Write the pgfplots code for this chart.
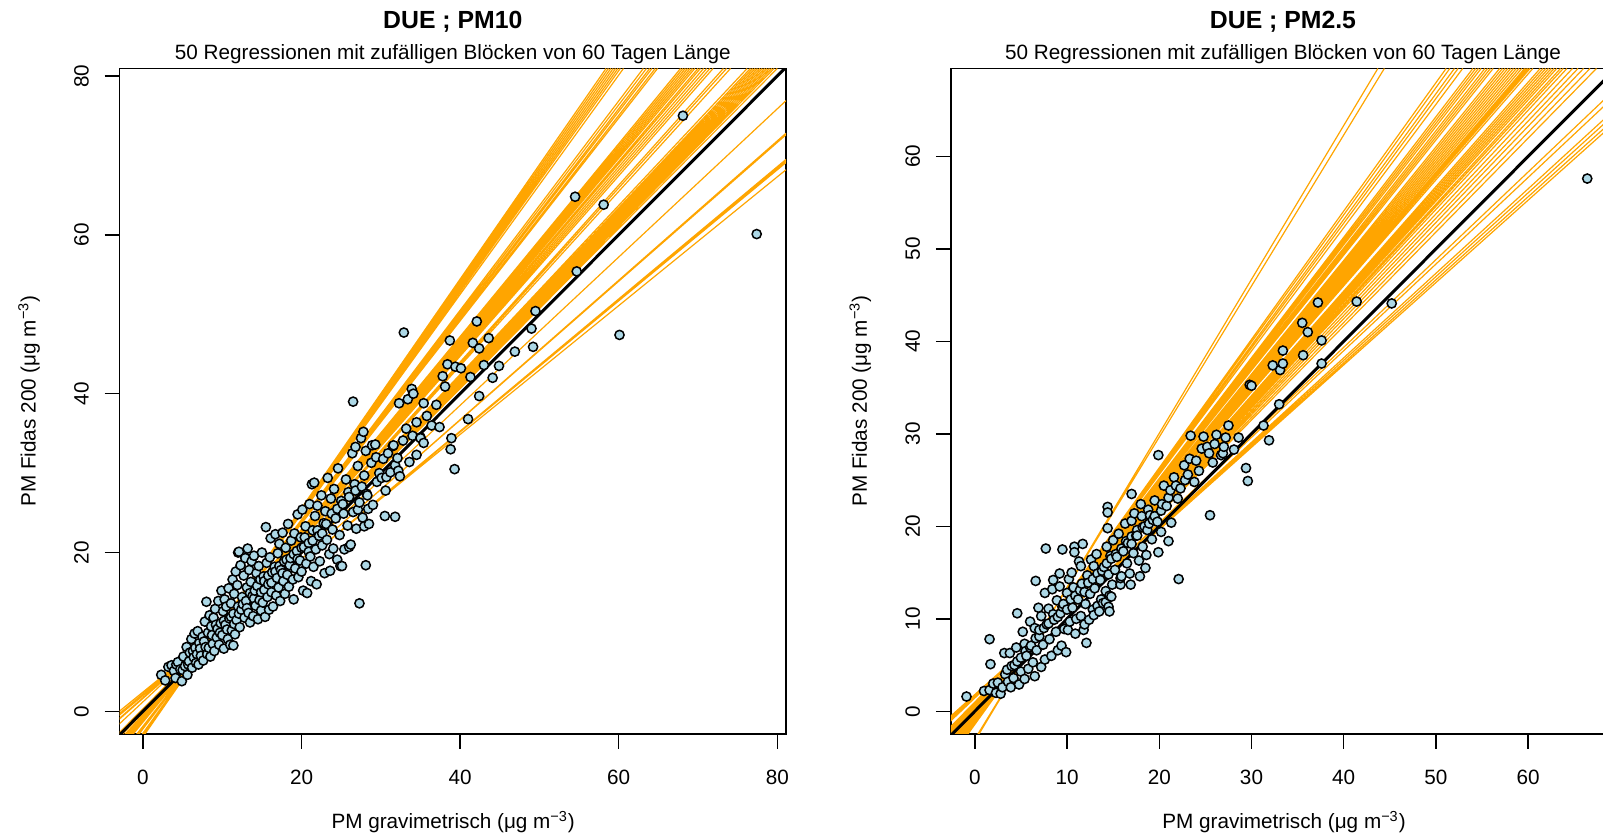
\documentclass[border=0pt]{standalone}
\usepackage{fontspec}
\setmainfont{Liberation Sans}
\usepackage{pgfplots}
\pgfplotsset{compat=1.18}
\usepackage{pgfplotstable}

\definecolor{ptfill}{RGB}{173,216,230}
\definecolor{rorange}{RGB}{255,165,0}
\newcommand{\basefont}{\fontsize{10.35}{12.4}\selectfont}
\newcommand{\titlefont}{\fontsize{12.4}{14.9}\selectfont\bfseries}

% ---------- PM10: daily pairs (gravimetric, Fidas) ----------
\pgfplotstableread{
x y
2.3 4.6
2.8 3.9
3.2 5.6
3.6 5.8
3.9 5.1
4.1 4.2
4.2 5.9
4.4 6.2
4.7 5.3
4.9 3.8
5.0 5.2
5.1 6.9
5.3 5.7
5.5 8.1
5.6 4.6
5.7 5.9
5.8 6.3
5.9 7.4
6.1 9.1
6.2 5.5
6.3 7.6
6.4 6.8
6.5 9.8
6.6 8.0
6.7 6.1
6.8 7.2
6.9 10.1
7.0 5.9
7.1 8.6
7.2 7.9
7.3 7.0
7.5 9.4
7.6 6.4
7.7 8.8
7.8 11.3
7.9 8.1
8.0 13.8
8.1 7.2
8.2 9.9
8.3 8.0
8.4 12.1
8.5 6.9
8.6 10.7
8.7 9.6
8.8 8.5
8.9 11.8
9.0 7.6
9.1 12.9
9.2 10.9
9.3 9.3
9.4 10.4
9.5 13.9
9.6 8.4
9.7 9.9
9.8 11.1
9.9 15.2
10.0 9.6
10.1 12.6
10.2 7.9
10.2 11.4
10.3 14.1
10.4 10.9
10.5 13.2
10.6 10.3
10.7 9.1
10.8 15.5
10.9 11.7
11.0 8.4
11.1 13.6
11.1 11.9
11.2 10.2
11.3 16.6
11.4 8.3
11.4 12.3
11.5 14.8
11.5 11.0
11.6 9.7
11.7 17.6
11.8 11.5
11.9 15.9
12.0 13.2
12.0 20.0
12.1 20.1
12.1 12.3
12.2 10.6
12.3 18.4
12.4 12.8
12.5 14.4
12.6 13.5
12.7 17.1
12.8 11.8
12.9 19.3
13.0 13.9
13.1 15.6
13.1 13.0
13.2 20.5
13.3 12.4
13.4 17.8
13.5 11.2
13.5 14.9
13.6 16.3
13.7 18.9
13.8 14.5
13.9 12.0
14.0 19.6
14.0 14.2
14.1 15.2
14.2 13.3
14.3 17.4
14.4 15.8
14.5 11.6
14.6 18.3
14.7 14.0
14.8 16.6
14.9 12.7
14.9 15.0
15.0 20.0
15.1 13.7
15.2 17.0
15.3 15.3
15.3 16.4
15.4 11.9
15.5 23.2
15.6 18.7
15.7 14.4
15.8 16.0
15.8 17.1
15.9 12.8
16.0 19.4
16.1 21.8
16.2 15.0
16.2 16.2
16.3 17.5
16.4 13.2
16.6 18.2
16.7 22.3
16.7 17.6
16.8 14.6
16.9 16.8
17.0 19.9
17.1 15.6
17.2 21.1
17.2 18.3
17.3 13.9
17.4 17.8
17.6 22.5
17.6 17.4
17.7 16.4
17.8 18.9
17.9 14.8
18.0 20.6
18.1 19.1
18.2 17.2
18.3 23.6
18.4 15.7
18.5 18.4
18.6 19.3
18.7 21.5
18.9 16.6
19.0 14.1
19.0 19.8
19.1 22.4
19.2 18.0
19.4 20.2
19.5 24.8
19.5 19.2
19.6 16.9
19.8 19.0
19.9 21.9
20.0 17.6
20.0 20.6
20.1 25.4
20.2 15.2
20.3 20.7
20.4 21.9
20.5 23.3
20.6 18.6
20.7 14.9
20.9 21.2
20.9 20.1
21.0 26.1
21.1 19.5
21.2 16.4
21.3 28.6
21.4 22.8
21.4 21.5
21.5 18.2
21.6 28.8
21.7 24.6
21.8 20.4
21.9 16.0
22.0 25.9
22.0 22.8
22.2 22.1
22.3 18.9
22.5 27.2
22.6 20.9
22.6 22.4
22.8 23.7
22.9 17.4
23.0 25.2
23.1 23.6
23.2 21.6
23.3 29.4
23.5 19.8
23.6 17.7
23.7 26.8
23.8 24.9
23.9 22.9
24.0 20.5
24.1 28.0
24.3 24.3
24.5 19.1
24.5 25.5
24.6 30.6
24.8 22.2
24.9 18.3
25.0 26.5
25.1 18.3
25.2 26.1
25.3 24.9
25.4 20.4
25.6 29.2
25.8 23.4
25.9 27.6
26.0 20.7
26.0 27.0
26.2 21.0
26.4 32.5
26.5 25.1
26.5 39.0
26.7 28.6
26.8 33.3
26.8 27.8
26.9 23.0
27.1 25.4
27.1 30.9
27.3 13.6
27.3 26.3
27.5 34.4
27.6 28.3
27.7 24.4
27.8 35.2
27.9 23.3
27.9 29.7
28.1 18.4
28.1 32.8
28.2 27.4
28.3 27.2
28.4 25.5
28.5 23.6
28.8 31.3
28.9 33.5
29.0 26.0
29.3 33.6
29.4 32.0
29.5 28.9
29.8 30.0
30.1 29.4
30.3 31.8
30.5 24.6
30.6 27.8
30.7 29.5
30.9 32.5
31.2 30.1
31.5 33.4
31.6 33.5
31.8 24.5
31.8 31.0
32.1 31.9
32.2 30.3
32.3 38.8
32.4 29.6
32.8 34.1
32.9 47.7
33.2 35.6
33.4 39.3
33.6 31.4
33.9 40.6
34.0 34.7
34.1 40.0
34.5 32.3
34.5 36.4
35.0 34.5
35.0 34.4
35.4 38.8
35.4 33.8
35.8 37.2
36.4 36.0
37.0 38.6
37.4 35.8
37.8 42.2
38.1 40.9
38.4 43.7
38.7 46.7
38.8 33.0
38.9 34.4
39.3 30.5
39.4 43.4
40.1 43.2
41.0 36.8
41.3 42.1
41.6 46.4
42.1 49.1
42.4 45.7
42.4 39.7
43.0 43.6
43.6 47.0
44.1 42.0
44.9 43.5
46.9 45.3
49.0 48.2
49.2 45.9
49.5 50.4
54.5 64.8
54.7 55.4
58.1 63.8
60.1 47.4
68.1 75.0
77.4 60.1
}\pmtenpts

% 50 regressions on random 60-day blocks (lower end, exit point)
\pgfplotstableread{
x y
-3 -7.54
58.4 80.95
nan nan
-3 -7.45
58.7 80.95
nan nan
-3 -7.35
59.0 80.95
nan nan
-3 -7.26
59.3 80.95
nan nan
-3 -7.17
59.6 80.95
nan nan
-3 -7.07
59.9 80.95
nan nan
-3 -6.98
60.2 80.95
nan nan
-3 -6.87
60.6 80.95
nan nan
-3 -6.16
63.1 80.95
nan nan
-3 -6.05
63.5 80.95
nan nan
-3 -5.95
63.9 80.95
nan nan
-3 -5.87
64.2 80.95
nan nan
-3 -5.77
64.6 80.95
nan nan
-3 -5.69
64.9 80.95
nan nan
-3 -5.00
67.8 80.95
nan nan
-3 -4.93
68.1 80.95
nan nan
-3 -4.86
68.4 80.95
nan nan
-3 -4.80
68.7 80.95
nan nan
-3 -4.73
69.0 80.95
nan nan
-3 -4.66
69.3 80.95
nan nan
-3 -4.59
69.6 80.95
nan nan
-3 -4.52
70.0 80.95
nan nan
-3 -4.45
70.3 80.95
nan nan
-3 -4.37
70.7 80.95
nan nan
-3 -4.28
71.1 80.95
nan nan
-3 -4.20
71.5 80.95
nan nan
-3 -4.12
71.9 80.95
nan nan
-3 -3.87
73.2 80.95
nan nan
-3 -3.79
73.6 80.95
nan nan
-3 -3.70
74.1 80.95
nan nan
-3 -3.32
76.2 80.95
nan nan
-3 -3.25
76.6 80.95
nan nan
-3 -3.19
76.9 80.95
nan nan
-3 -3.15
77.2 80.95
nan nan
-3 -3.09
77.5 80.95
nan nan
-3 -3.05
77.8 80.95
nan nan
-3 -2.99
78.1 80.95
nan nan
-3 -2.95
78.4 80.95
nan nan
-3 -2.89
78.7 80.95
nan nan
-3 -2.85
79.0 80.95
nan nan
-3 -2.80
79.3 80.95
nan nan
-3 -2.75
79.6 80.95
nan nan
-3 -2.69
80.0 80.95
nan nan
-3 -1.60
81.1 76.9
nan nan
-3 -1.00
81.1 72.8
nan nan
-3 -0.90
81.1 72.6
nan nan
-3 -0.50
81.1 69.5
nan nan
-3 -0.40
81.1 69.3
nan nan
-3 -0.30
81.1 69.1
nan nan
-3 0.00
81.1 68.2
}\pmtenlines

% ---------- PM2.5: daily pairs (gravimetric, Fidas) ----------
\pgfplotstableread{
x y
-0.9 1.6
1.0 2.2
1.6 2.3
1.6 7.8
1.7 5.1
2.0 3.0
2.3 2.0
2.5 3.1
2.8 1.9
3.0 2.6
3.2 6.3
3.3 4.0
3.5 4.5
3.6 3.2
3.8 6.3
3.9 2.6
4.0 4.9
4.2 3.6
4.3 5.0
4.5 6.9
4.6 5.4
4.6 10.6
4.8 2.9
5.0 4.3
5.0 5.8
5.2 8.6
5.4 3.5
5.4 7.3
5.5 6.5
5.6 6.0
5.8 4.6
6.0 9.7
6.0 6.9
6.1 7.1
6.3 5.3
6.5 9.0
6.5 3.8
6.6 14.1
6.6 7.9
6.7 6.6
6.9 11.2
7.0 8.1
7.0 8.8
7.2 10.3
7.2 4.8
7.4 7.2
7.5 9.0
7.6 12.8
7.6 5.6
7.7 17.6
7.8 9.4
8.0 11.1
8.0 9.5
8.1 7.8
8.3 6.0
8.4 13.2
8.5 14.2
8.5 10.5
8.6 9.9
8.8 8.6
8.9 12.0
9.0 6.6
9.0 10.2
9.2 14.9
9.2 13.5
9.3 10.6
9.4 7.1
9.5 17.5
9.5 11.3
9.6 11.6
9.7 8.9
9.9 6.4
10.0 12.8
10.0 11.0
10.1 8.8
10.2 14.3
10.3 9.7
10.4 12.1
10.5 15.0
10.6 11.2
10.7 13.4
10.8 17.8
10.8 17.2
10.9 8.4
10.9 12.5
11.0 10.0
11.2 12.1
11.3 16.2
11.4 13.1
11.5 15.7
11.5 10.3
11.6 13.8
11.7 18.1
11.8 8.8
11.9 9.4
11.9 12.9
12.0 11.6
12.1 7.4
12.2 14.7
12.3 13.9
12.4 9.9
12.5 12.7
12.6 16.4
12.8 11.0
12.8 14.3
12.9 10.4
12.9 15.7
13.0 13.3
13.2 17.0
13.3 11.4
13.3 14.9
13.5 10.8
13.6 14.2
13.7 12.1
13.8 15.2
13.9 11.7
14.0 15.6
14.2 11.8
14.2 13.0
14.3 17.8
14.3 16.0
14.4 22.1
14.4 21.5
14.4 19.8
14.5 11.3
14.5 14.8
14.6 10.8
14.6 12.5
14.7 16.8
14.8 12.4
14.8 16.5
14.9 13.7
15.0 18.5
15.2 15.3
15.3 17.0
15.4 16.7
15.6 19.2
15.8 13.7
15.8 14.4
15.9 14.6
15.9 17.6
16.1 17.3
16.3 20.3
16.4 18.4
16.5 16.0
16.6 18.2
16.8 14.9
16.9 13.7
17.0 18.9
17.0 18.1
17.0 20.6
17.0 23.5
17.2 17.1
17.3 21.4
17.5 19.0
17.6 19.6
17.6 19.0
17.8 16.3
17.9 14.6
18.0 22.4
18.1 21.1
18.2 17.8
18.2 19.9
18.4 20.0
18.5 15.5
18.6 16.9
18.7 19.6
18.8 21.8
18.9 20.3
19.0 21.2
19.2 18.6
19.3 20.7
19.5 22.8
19.5 21.1
19.8 20.5
19.9 17.2
19.9 27.7
20.2 19.4
20.2 21.7
20.3 22.4
20.5 24.4
20.8 22.2
21.0 18.4
21.0 23.1
21.2 23.9
21.3 20.4
21.6 25.3
21.8 24.4
22.0 23.0
22.1 14.3
22.3 24.1
22.7 26.6
22.8 25.0
23.1 25.6
23.3 27.3
23.4 29.8
23.8 24.8
24.0 27.1
24.3 26.0
24.6 28.4
24.8 29.7
25.2 28.6
25.4 27.9
25.5 21.2
25.8 26.9
26.0 28.9
26.2 29.9
26.7 27.7
26.9 27.9
27.0 28.6
27.2 29.6
27.5 30.9
28.1 28.3
28.6 29.6
29.4 26.3
29.6 24.9
29.8 35.3
30.0 35.2
31.3 30.9
31.9 29.3
32.3 37.4
33.0 33.2
33.1 36.9
33.4 37.6
33.4 39.0
35.5 42.0
35.6 38.5
36.1 41.0
37.2 44.2
37.6 40.1
37.6 37.6
41.4 44.3
45.2 44.1
66.4 57.6
}\pmtwofivepts

% 50 regressions on random 60-day blocks (lower end, exit point)
\pgfplotstableread{
x y
-3 -8.21
43.7 69.5
nan nan
-3 -7.91
44.4 69.5
nan nan
-3 -5.59
51.1 69.5
nan nan
-3 -5.47
51.5 69.5
nan nan
-3 -5.32
52.0 69.5
nan nan
-3 -5.22
52.4 69.5
nan nan
-3 -5.07
52.9 69.5
nan nan
-3 -4.78
54.0 69.5
nan nan
-3 -4.70
54.3 69.5
nan nan
-3 -4.63
54.6 69.5
nan nan
-3 -4.55
54.9 69.5
nan nan
-3 -4.45
55.3 69.5
nan nan
-3 -4.38
55.6 69.5
nan nan
-3 -4.30
55.9 69.5
nan nan
-3 -4.23
56.2 69.5
nan nan
-3 -4.07
56.9 69.5
nan nan
-3 -4.00
57.2 69.5
nan nan
-3 -3.93
57.5 69.5
nan nan
-3 -3.87
57.8 69.5
nan nan
-3 -3.80
58.1 69.5
nan nan
-3 -3.73
58.4 69.5
nan nan
-3 -3.67
58.7 69.5
nan nan
-3 -3.60
59.0 69.5
nan nan
-3 -3.53
59.3 69.5
nan nan
-3 -3.48
59.6 69.5
nan nan
-3 -3.43
59.8 69.5
nan nan
-3 -3.39
60.0 69.5
nan nan
-3 -3.35
60.2 69.5
nan nan
-3 -3.29
60.5 69.5
nan nan
-3 -3.14
61.3 69.5
nan nan
-3 -3.07
61.6 69.5
nan nan
-3 -3.01
61.9 69.5
nan nan
-3 -2.95
62.2 69.5
nan nan
-3 -2.90
62.5 69.5
nan nan
-3 -2.84
62.8 69.5
nan nan
-3 -2.79
63.1 69.5
nan nan
-3 -2.72
63.5 69.5
nan nan
-3 -2.66
63.8 69.5
nan nan
-3 -2.59
64.2 69.5
nan nan
-3 -2.49
64.8 69.5
nan nan
-3 -2.38
65.4 69.5
nan nan
-3 -2.28
66.0 69.5
nan nan
-3 -2.17
66.7 69.5
nan nan
-3 -2.05
67.4 69.5
nan nan
-3 -1.41
70 67.80
nan nan
-3 -1.30
70 67.10
nan nan
-3 -1.08
70 65.64
nan nan
-3 -1.01
70 65.13
nan nan
-3 -0.93
70 64.62
nan nan
-3 -0.86
70 64.18
}\pmtwofivelines

\pgfplotsset{
  rpanel/.style={
    scale only axis,
    anchor=south west,
    axis line style={line width=0.75pt},
    tick align=outside,
    xtick pos=left,
    ytick pos=left,
    major tick length=7.5pt,
    every tick/.style={black, line width=0.75pt},
    tick label style={font=\basefont},
    /pgf/number format/assume math mode=true,
    xticklabel style={anchor=center, yshift=-14pt},
    yticklabel style={xshift=-11.5pt, rotate=90, anchor=center},
    unbounded coords=jump,
  },
  pts/.style={only marks, mark=*, mark size=2.3pt,
    mark options={fill=ptfill, draw=black, line width=0.75pt}},
  fits/.style={rorange, line width=0.6pt, no marks},
  allfit/.style={black, line width=1.5pt, no marks},
}

\begin{document}
\begin{tikzpicture}
\path[use as bounding box] (0,0) rectangle (801.5pt,418pt);
\clip (0,0) rectangle (801.5pt,418pt);

% PM10 panel
\begin{axis}[rpanel,
  at={(59.8pt,51pt)}, width=333.2pt, height=332.75pt,
  xmin=-2.95, xmax=81.1, ymin=-2.85, ymax=80.95,
  xtick={0,20,40,60,80}, ytick={0,20,40,60,80}]
  \addplot[pts] table {\pmtenpts};
  \addplot[fits] table {\pmtenlines};
  \addplot[allfit] coordinates {(-3,-3) (82,82)};
\end{axis}

% PM2.5 panel
\begin{axis}[rpanel,
  at={(475.4pt,51pt)}, width=331.6pt, height=332.75pt,
  xmin=-2.6, xmax=69.3, ymin=-2.45, ymax=69.5,
  xtick={0,10,20,30,40,50,60}, ytick={0,10,20,30,40,50,60}]
  \addplot[pts] table {\pmtwofivepts};
  \addplot[fits] table {\pmtwofivelines};
  \addplot[allfit] coordinates {(-3,-3) (70,70)};
\end{axis}

% titles and axis labels
\node[anchor=base] at (226.4pt,403.85pt) {\titlefont DUE ; PM10};
\node[anchor=base] at (226.4pt,388.35pt) {\basefont 50 Regressionen mit zufälligen Blöcken von 60 Tagen Länge};
\node[anchor=base] at (641.5pt,403.85pt) {\titlefont DUE ; PM2.5};
\node[anchor=base] at (641.5pt,388.35pt) {\basefont 50 Regressionen mit zufälligen Blöcken von 60 Tagen Länge};

\node[anchor=base] at (226.6pt,3.5pt) {\basefont PM gravimetrisch (μg m\textsuperscript{−3})};
\node[anchor=base] at (642pt,3.5pt) {\basefont PM gravimetrisch (μg m\textsuperscript{−3})};
\node[rotate=90, anchor=base] at (17.8pt,217.5pt) {\basefont PM Fidas 200 (μg m\textsuperscript{−3})};
\node[rotate=90, anchor=base] at (433.4pt,217.5pt) {\basefont PM Fidas 200 (μg m\textsuperscript{−3})};
\end{tikzpicture}
\end{document}
